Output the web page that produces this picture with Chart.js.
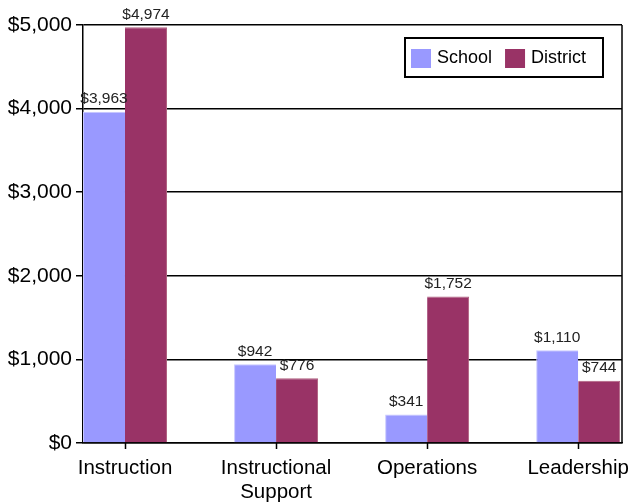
<!DOCTYPE html>
<html>
<head>
<meta charset="utf-8">
<script src="https://cdn.jsdelivr.net/npm/chart.js@4"></script>
<style>
  html, body { margin: 0; padding: 0; background: #fff; }
  #wrap { width: 631px; height: 504px; }
</style>
</head>
<body>
<div id="wrap"><canvas id="grafico" width="631" height="504"></canvas></div>
<script>
// Datos
const categorias = ["Instruction", "Instructional Support", "Operations", "Leadership"];
const escuela = [3963, 942, 341, 1110];
const distrito = [4974, 776, 1752, 744];
const marcasY = [0, 1000, 2000, 3000, 4000, 5000];

const dinero = v => "$" + v.toLocaleString("en-US");

// Etiquetas encima de cada barra
const etiquetas = {
    id: "etiquetas",
    afterDatasetsDraw(chart) {
        const ctx = chart.ctx;
        ctx.save();
        ctx.font = "15.5px 'Liberation Sans', Arial, sans-serif";
        ctx.fillStyle = "#222";
        ctx.textAlign = "center";
        ctx.textBaseline = "bottom";
        chart.data.datasets.forEach((ds, i) => {
            chart.getDatasetMeta(i).data.forEach((bar, j) => {
                ctx.fillText(dinero(ds.data[j].y), bar.x, bar.y - 5);
            });
        });
        ctx.restore();
    }
};

// Leyenda con marco, borde derecho y marcas del eje x
const marco = {
    id: "marco",
    afterDraw(chart) {
        const ctx = chart.ctx;
        const a = chart.chartArea;
        const sx = chart.scales.x;
        ctx.save();
        ctx.strokeStyle = "#000";
        ctx.lineWidth = 1.5;
        ctx.beginPath();
        ctx.moveTo(a.right, a.top);
        ctx.lineTo(a.right, a.bottom);
        categorias.forEach((c, i) => {
            const px = Math.round(sx.getPixelForValue(i)) + 0.5;
            ctx.moveTo(px, a.bottom);
            ctx.lineTo(px, a.bottom + 6);
        });
        ctx.stroke();

        const x = 405, y = 38, w = 198, h = 39;
        ctx.fillStyle = "#fff";
        ctx.fillRect(x, y, w, h);
        ctx.lineWidth = 2;
        ctx.strokeRect(x, y, w, h);
        ctx.font = "18px 'Liberation Sans', Arial, sans-serif";
        ctx.textBaseline = "middle";
        ctx.textAlign = "left";
        let px = x + 6;
        chart.data.datasets.forEach(ds => {
            ctx.fillStyle = ds.backgroundColor;
            ctx.fillRect(px, y + 11, 20, 19);
            ctx.fillStyle = "#000";
            ctx.fillText(ds.label, px + 26, y + 20);
            px += 26 + ctx.measureText(ds.label).width + 13;
        });
        ctx.restore();
    }
};

new Chart(document.getElementById("grafico"), {
    type: "bar",
    data: {
        datasets: [{
            label: "School",
            data: escuela.map((v, i) => ({ x: i, y: v })),
            backgroundColor: "#9999ff",
            borderColor: "#c8c8ff",
            borderWidth: { left: 1, right: 0, top: 1, bottom: 0 },
            barPercentage: 1,
            categoryPercentage: 0.556
        }, {
            label: "District",
            data: distrito.map((v, i) => ({ x: i, y: v })),
            backgroundColor: "#993366",
            borderColor: "#b0607f",
            borderWidth: { left: 0, right: 1, top: 1, bottom: 0 },
            barPercentage: 1,
            categoryPercentage: 0.556
        }]
    },
    options: {
        responsive: false,
        animation: false,
        layout: { padding: { top: 25, right: 9, left: 0, bottom: 0 } },
        plugins: {
            legend: { display: false },
            tooltip: { enabled: false }
        },
        scales: {
            x: {
                type: "linear",
                offset: false,
                min: -0.278,
                max: 3.29,
                afterBuildTicks: s => { s.ticks = categorias.map((c, i) => ({ value: i })); },
                afterFit: s => { s.height = 61; s.paddingLeft = 0; s.paddingRight = 0; },
                ticks: {
                    autoSkip: false,
                    maxRotation: 0,
                    padding: 5,
                    color: "#000",
                    font: { family: "'Liberation Sans', Arial, sans-serif", size: 20.5, lineHeight: 1.17 },
                    callback: v => {
                        const t = categorias[v];
                        return t === "Instructional Support" ? ["Instructional", "Support"] : t;
                    }
                },
                grid: { display: false },
                border: { display: true, color: "#000", width: 1.5 }
            },
            y: {
                min: 0,
                max: 5000,
                afterBuildTicks: s => { s.ticks = marcasY.map(v => ({ value: v })); },
                afterFit: s => { s.width = 83; },
                ticks: {
                    padding: 4,
                    color: "#000",
                    font: { family: "'Liberation Sans', Arial, sans-serif", size: 21 },
                    callback: v => dinero(v)
                },
                grid: { color: "#000", lineWidth: 1.5, tickLength: 7 },
                border: { color: "#000", width: 1.5 }
            }
        }
    },
    plugins: [etiquetas, marco]
});
</script>
</body>
</html>
